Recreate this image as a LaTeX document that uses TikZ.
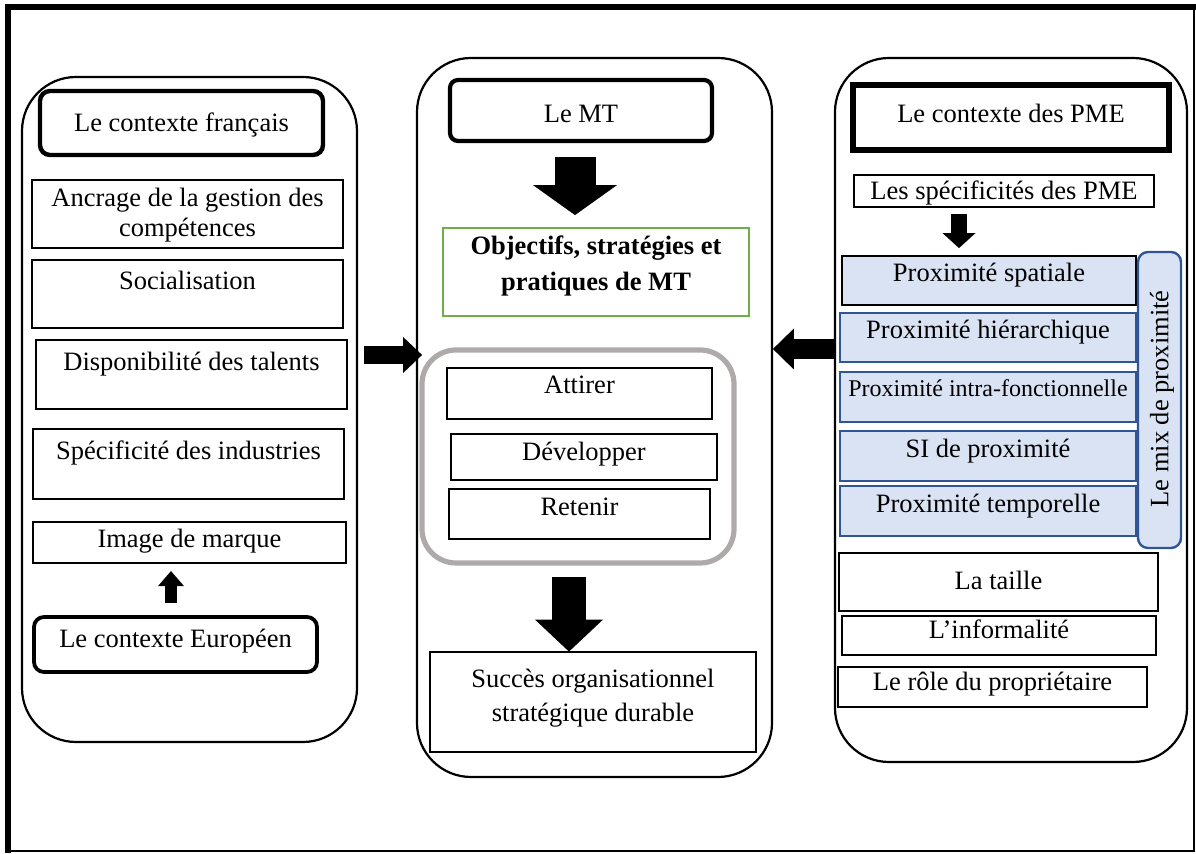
\documentclass[tikz,border=0pt]{standalone}
\usepackage{fontspec}
\setmainfont{Liberation Serif}
\usetikzlibrary{fit,calc,arrows.meta}
\definecolor{pblue}{HTML}{DAE3F3}
\definecolor{pborder}{HTML}{2F5597}
\definecolor{pgreen}{HTML}{70AD47}
\definecolor{pgray}{HTML}{AEAAAA}
\newcommand\mainfs{\fontsize{13.25pt}{15pt}\selectfont}
\newcommand\smallfs{\fontsize{12pt}{14pt}\selectfont}
\begin{document}
\begin{tikzpicture}[x=0.5pt,y=-0.5pt,
  every node/.style={font=\mainfs},
  panel/.style={draw, line width=1.1pt, rounded corners=27pt, inner sep=0pt},
  titlebox/.style={draw, line width=2.2pt, rounded corners=5pt, inner sep=0pt},
  plainbox/.style={draw, line width=1.1pt, inner sep=0pt},
  bluebox/.style={draw=pborder, fill=pblue, line width=1.2pt, inner sep=0pt},
  txt/.style={inner sep=0pt, anchor=base, align=center},
  blockarrow/.style n args={3}{draw, line width=#1, -{Triangle[width=#2,length=#3,line width=0pt]}}
]
\useasboundingbox (0,0) rectangle (1196,854);
% outer frame
\draw[line width=3pt] (8,4) -- (8,853);
\draw[line width=3pt] (5,7) -- (1196,7);
\draw[line width=0.8pt] (1194,7) -- (1194,852);
\draw[line width=1pt] (5,851) -- (1194,851);

% panels
\node[panel, fit={(22,77) (357,742)}] (lp) {};
\node[panel, fit={(417,58) (772,777)}] (cp) {};
\node[panel, fit={(835,58) (1187,762)}] (rp) {};

% left panel
\node[titlebox, fit={(40,91) (323,155)}] (fr) {};
\node[plainbox, fit={(32,180) (343,248)}] (anc) {};
\node[plainbox, fit={(32,260) (343,328)}] (soc) {};
\node[plainbox, fit={(36,340) (347,409)}] (dis) {};
\node[plainbox, fit={(33,429) (344,499)}] (spe) {};
\node[plainbox, fit={(33,522) (346,563)}] (img) {};
\node[titlebox, line width=1.9pt, fit={(34,617) (317,672)}] (eur) {};

\node[txt] (t-fr) at (181.5,132) {Le contexte français};
\node[txt] (t-anc) at (187.5,237) {Ancrage de la gestion des\\compétences};
\node[txt] (t-soc) at (187.5,290) {Socialisation};
\node[txt] (t-dis) at (191.5,371) {Disponibilité des talents};
\node[txt] (t-spe) at (188.5,460) {Spécificité des industries};
\node[txt] (t-img) at (189.5,548) {Image de marque};
\node[txt] (t-eur) at (175.5,648) {Le contexte Européen};

% center panel
\node[titlebox, line width=2.1pt, rounded corners=4pt, fit={(450,80) (712,141)}] (mt) {};
\node[draw=pgreen, line width=1.1pt, inner sep=0pt, fit={(443,228) (749,316)}] (obj) {};
\node[draw=pgray, line width=2.6pt, rounded corners=17pt, inner sep=0pt, fit={(422,350) (734,563)}] (grp) {};
\node[plainbox, fit={(447,368) (712,419)}] (att) {};
\node[plainbox, fit={(451,434) (717,480)}] (dev) {};
\node[plainbox, fit={(449,489) (710,539)}] (ret) {};
\node[plainbox, fit={(430,652) (756,752)}] (suc) {};

\node[txt] (t-mt) at (581,123) {Le MT};
\node[txt, font=\mainfs\bfseries] (t-obj) at (596,291) {Objectifs, stratégies et\\[3pt]pratiques de MT};
\node[txt] (t-att) at (579.5,394) {Attirer};
\node[txt] (t-dev) at (584,461) {Développer};
\node[txt] (t-ret) at (579.5,516) {Retenir};
\node[txt] (t-suc) at (593,722) {Succès organisationnel\\[2pt]stratégique durable};

% right panel
\node[draw, line width=3pt, inner sep=0pt, fit={(853,85) (1169,150)}] (pme) {};
\node[plainbox, fit={(854,175) (1154,207)}] (spc) {};
\node[bluebox, draw=black, fit={(842,256) (1136,305)}] (p1) {};
\node[bluebox, fit={(840,313) (1136,362)}] (p2) {};
\node[bluebox, fit={(840,372) (1136,422)}] (p3) {};
\node[bluebox, fit={(840,431) (1136,481)}] (p4) {};
\node[bluebox, fit={(840,486) (1136,536)}] (p5) {};
\node[bluebox, rounded corners=5pt, fit={(1138,252) (1181,548)}] (mix) {};
\node[plainbox, fit={(839,553) (1158,611)}] (tai) {};
\node[plainbox, fit={(842,616) (1156,655)}] (inf) {};
\node[plainbox, fit={(838,667) (1147,707)}] (rol) {};

\node[txt] (t-pme) at (1011,123) {Le contexte des PME};
\node[txt] (t-spc) at (1004,200) {Les spécificités des PME};
\node[txt] (t-p1) at (989,282) {Proximité spatiale};
\node[txt] (t-p2) at (988,339) {Proximité hiérarchique};
\node[txt, font=\smallfs] (t-p3) at (988,397) {Proximité intra-fonctionnelle};
\node[txt] (t-p4) at (988,458) {SI de proximité};
\node[txt] (t-p5) at (988,513) {Proximité temporelle};
\node[rotate=90, inner sep=0pt] (t-mix) at (1162,399) {Le mix de proximité};
\node[txt] (t-tai) at (998.5,590) {La taille};
\node[txt] (t-inf) at (999,639) {L’informalité};
\node[txt] (t-rol) at (992.5,691) {Le rôle du propriétaire};

% block arrows
\draw[blockarrow={20.5pt}{42pt}{15pt}] ($(mt.south)+(-6,14)$) -- ++(0,58);
\draw[blockarrow={17pt}{34pt}{16pt}] ($(grp.south)+(-9,11)$) -- ++(0,75);
\draw[blockarrow={9pt}{18pt}{9.5pt}] ($(lp.east)+(6,-54.5)$) -- ++(58,0);
\draw[blockarrow={10pt}{20.5pt}{10.5pt}] ($(rp.west)+(2,-61)$) -- ++(-63,0);
\draw[blockarrow={8pt}{16.5pt}{7.5pt}] ($(spc.south)+(-45,6)$) -- ++(0,34);
\draw[blockarrow={6pt}{13pt}{7.5pt}] ($(eur.north)+(-4.5,-12)$) -- ++(0,-32);
\end{tikzpicture}
\end{document}
